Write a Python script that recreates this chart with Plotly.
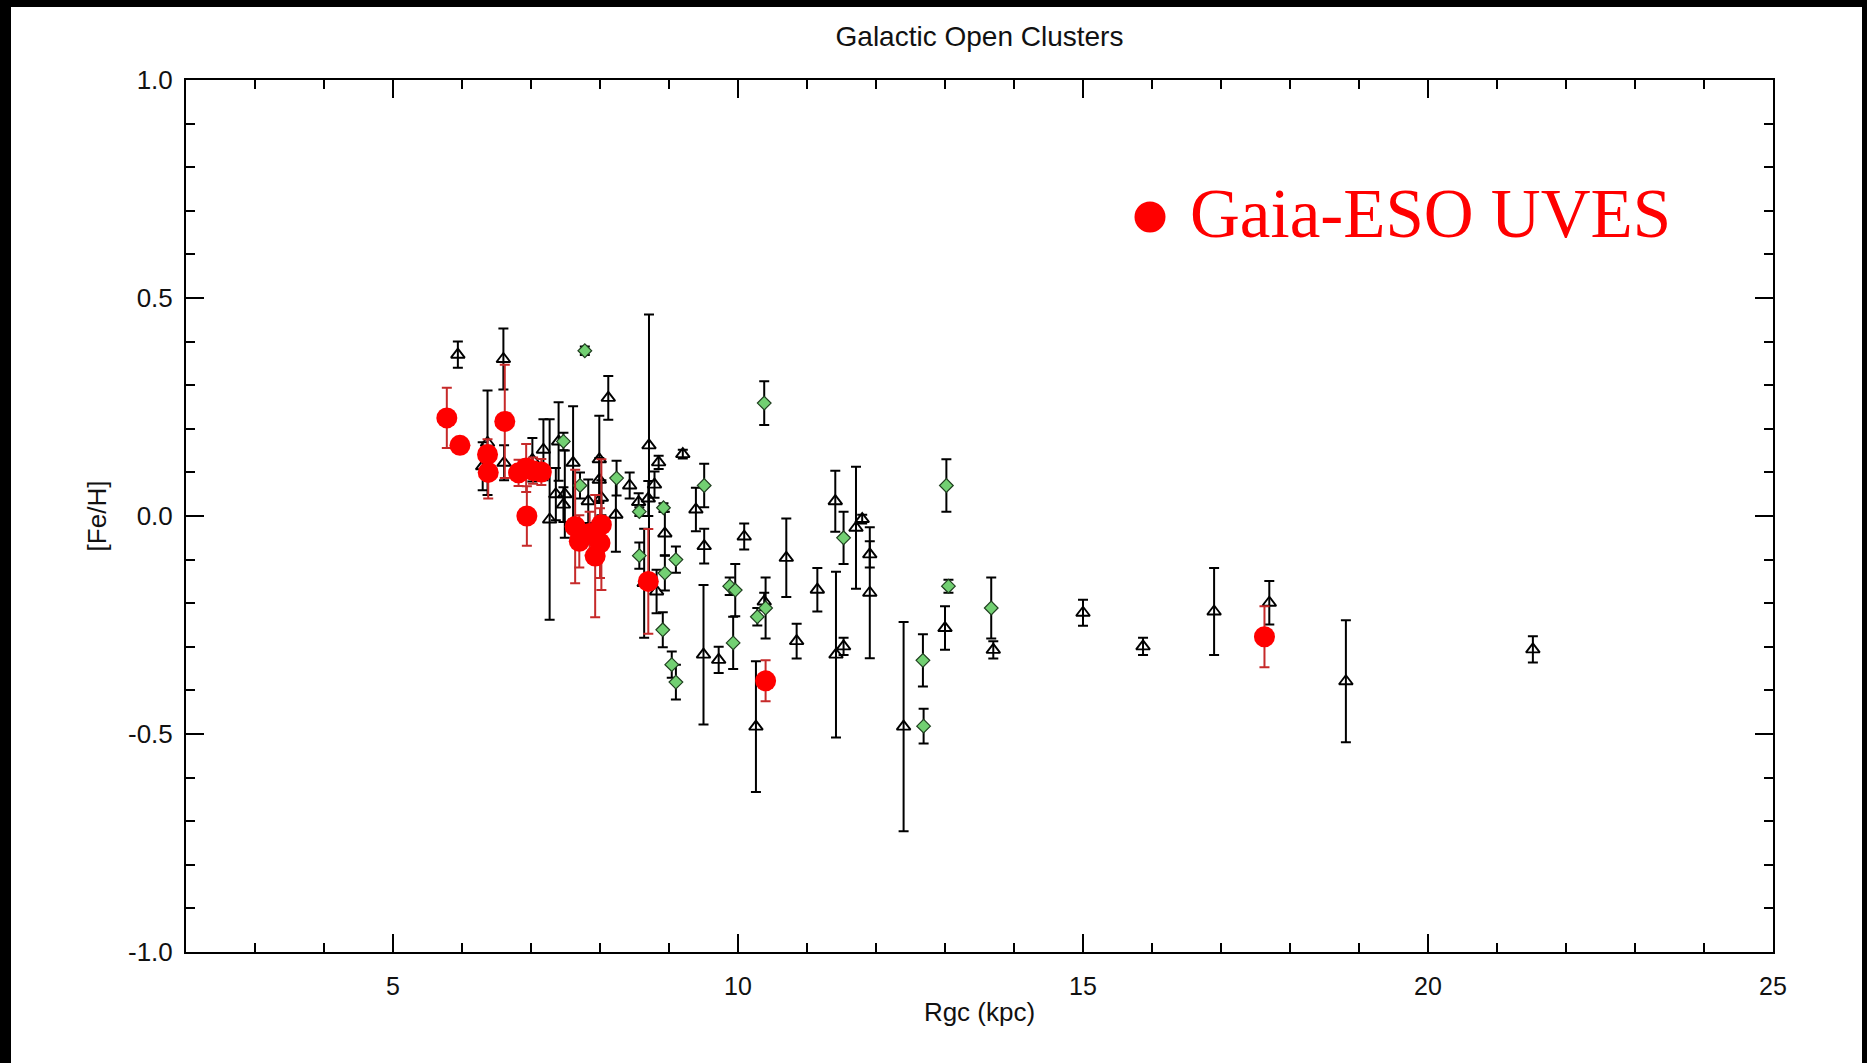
import plotly.graph_objects as go

# ---------------- data ----------------
# Literature open clusters (open triangles)
tri_x = [5.94, 6.60, 6.37, 6.30, 6.61, 7.02, 7.18, 7.27, 7.40, 7.36, 7.49, 7.47, 7.61, 7.83,
         7.99, 7.99, 8.02, 8.12, 8.23, 8.43, 8.56, 8.70, 8.71, 8.79, 8.85, 8.94, 8.64, 8.82,
         9.20, 9.39, 9.51, 9.50, 9.72, 10.09, 10.38, 10.26, 10.70, 10.85, 11.15, 11.41, 11.42,
         11.53, 11.71, 11.80, 11.91, 11.91, 12.40, 13.00, 13.70, 15.00, 15.87, 16.90, 17.70,
         18.81, 21.52]
tri_y = [0.370, 0.360, 0.168, 0.114, 0.122, 0.129, 0.152, -0.008, 0.171, 0.050, 0.050, 0.026,
         0.122, 0.034, 0.130, 0.083, 0.042, 0.271, 0.003, 0.070, 0.032, 0.040, 0.162, 0.072,
         0.123, -0.040, -0.154, -0.173, 0.142, 0.015, -0.069, -0.318, -0.330, -0.047, -0.196,
         -0.483, -0.096, -0.287, -0.169, 0.034, -0.318, -0.299, -0.027, -0.007, -0.088, -0.176,
         -0.483, -0.257, -0.307, -0.222, -0.299, -0.219, -0.199, -0.379, -0.306]
tri_err = [0.03, 0.07, 0.12, 0.055, 0.04, 0.05, 0.07, 0.23, 0.09, 0.06, 0.10, 0.04, 0.13, 0.05,
           0.10, 0.05, 0.04, 0.05, 0.085, 0.03, 0.02, 0.04, 0.30, 0.03, 0.015, 0.05, 0.125, 0.05,
           0.01, 0.05, 0.04, 0.16, 0.03, 0.03, 0.02, 0.15, 0.09, 0.04, 0.05, 0.07, 0.19,
           0.02, 0.14, 0.01, 0.03, 0.15, 0.24, 0.05, 0.02, 0.03, 0.02, 0.10, 0.05,
           0.14, 0.03]

# Second literature sample (green diamonds)
dia_x = [7.47, 7.71, 7.78, 8.24, 8.57, 8.92, 8.57, 9.10, 8.94, 8.91, 9.04, 9.10, 9.51, 9.88,
         9.96, 9.93, 10.38, 10.28, 10.40, 11.53, 12.68, 12.69, 13.02, 13.05, 13.67]
dia_y = [0.171, 0.070, 0.379, 0.087, 0.010, 0.019, -0.091, -0.100, -0.131, -0.261, -0.341,
         -0.381, 0.070, -0.161, -0.170, -0.291, 0.259, -0.231, -0.211, -0.050, -0.331, -0.482,
         0.070, -0.161, -0.211]
dia_err = [0.02, 0.03, 0.01, 0.04, 0.01, 0.01, 0.03, 0.03, 0.04, 0.04, 0.03, 0.04, 0.05, 0.02,
           0.06, 0.06, 0.05, 0.02, 0.07, 0.06, 0.06, 0.04, 0.06, 0.015, 0.07]

# Gaia-ESO UVES clusters (red filled circles)
ges_x = [5.78, 5.97, 6.37, 6.38, 6.62, 6.82, 6.93, 7.03, 7.15, 6.94, 7.64, 7.70, 7.85, 8.02,
         8.00, 7.93, 8.70, 10.40, 17.63]
ges_y = [0.225, 0.162, 0.141, 0.100, 0.217, 0.099, 0.110, 0.104, 0.101, 0.000, -0.024, -0.058,
         -0.040, -0.020, -0.062, -0.092, -0.150, -0.378, -0.277]
ges_err = [0.069, 0.0, 0.035, 0.06, 0.13, 0.03, 0.055, 0.03, 0.03, 0.068, 0.13, 0.06, 0.05,
           0.15, 0.08, 0.14, 0.12, 0.047, 0.07]

x_major = [5, 10, 15, 20, 25]
x_major_text = ["5", "10", "15", "20", "25"]
y_major = [-1.0, -0.5, 0.0, 0.5, 1.0]
y_major_text = ["-1.0", "-0.5", "0.0", "0.5", "1.0"]

title_text = "Galactic Open Clusters"
x_title = "Rgc (kpc)"
y_title = "[Fe/H]"
legend_text = "Gaia-ESO UVES"

# ---------------- figure ----------------
W, H = 1867, 1063
ML, MR, MT, MB = 186, 94, 80, 111
PW = W - ML - MR
PH = H - MT - MB


def px_to_paper_x(px):
    return (px - ML) / PW


def px_to_paper_y(py):
    return (H - MB - py) / PH


fig = go.Figure()

fig.add_trace(go.Scatter(
    x=tri_x, y=tri_y, mode="markers", name="literature",
    marker=dict(symbol="triangle-up-open", size=12, color="black",
                line=dict(color="black", width=1.9)),
    error_y=dict(type="data", array=tri_err, visible=True, color="black",
                 thickness=2, width=5),
    showlegend=False,
))

fig.add_trace(go.Scatter(
    x=dia_x, y=dia_y, mode="markers", name="literature 2",
    marker=dict(symbol="diamond", size=10.5, color="#72d072",
                line=dict(color="#1f3f1f", width=1.2)),
    error_y=dict(type="data", array=dia_err, visible=True, color="black",
                 thickness=2, width=5),
    showlegend=False,
))

fig.add_trace(go.Scatter(
    x=ges_x, y=ges_y, mode="markers", name=legend_text,
    marker=dict(symbol="circle", size=21, color="#ff0000", line=dict(width=0)),
    error_y=dict(type="data", array=ges_err, visible=True, color="#c62a2a",
                 thickness=2, width=5),
    showlegend=False,
))

axis_common = dict(
    showline=True, linecolor="black", linewidth=2, mirror="ticks",
    ticks="inside", tickcolor="black", tickwidth=2, ticklen=18,
    showgrid=False, zeroline=False,
)

fig.update_xaxes(
    range=[2, 25], tickmode="array", tickvals=x_major, ticktext=x_major_text,
    minor=dict(dtick=1, ticks="inside", ticklen=9, tickwidth=2, tickcolor="black",
               showgrid=False),
    tickfont=dict(family="Liberation Sans", size=25, color="#111111"),
    ticklabelstandoff=11,
    title=dict(text=x_title, font=dict(family="Liberation Sans", size=26, color="#111111"),
               standoff=4),
    **axis_common,
)
fig.update_yaxes(
    range=[-1, 1], tickmode="array", tickvals=y_major, ticktext=y_major_text,
    minor=dict(dtick=0.1, tick0=0, ticks="inside", ticklen=9, tickwidth=2,
               tickcolor="black", showgrid=False),
    tickfont=dict(family="Liberation Sans", size=26, color="#111111"),
    ticklabelstandoff=6,
    title=dict(text=y_title, font=dict(family="Liberation Sans", size=26, color="#111111"),
               standoff=14),
    **axis_common,
)

# legend (drawn as annotation + marker glyph)
fig.add_shape(type="circle", xref="paper", yref="paper", xsizemode="pixel",
              ysizemode="pixel", xanchor=px_to_paper_x(1150), yanchor=px_to_paper_y(217),
              x0=-15.5, x1=15.5, y0=-15.5, y1=15.5,
              fillcolor="#ff0000", line=dict(width=0))
fig.add_annotation(text=legend_text, xref="paper", yref="paper",
                   x=px_to_paper_x(1188), y=px_to_paper_y(214),
                   xanchor="left", yanchor="middle", showarrow=False,
                   font=dict(family="Liberation Serif", size=69, color="#ff0000"))

# black frame bands around the picture
black = "#000000"
fig.add_shape(type="rect", xref="paper", yref="paper", layer="above",
              x0=px_to_paper_x(0), x1=px_to_paper_x(11), y0=px_to_paper_y(H), y1=px_to_paper_y(0),
              fillcolor=black, line=dict(width=0))
fig.add_shape(type="rect", xref="paper", yref="paper", layer="above",
              x0=px_to_paper_x(0), x1=px_to_paper_x(W), y0=px_to_paper_y(7), y1=px_to_paper_y(0),
              fillcolor=black, line=dict(width=0))
fig.add_shape(type="rect", xref="paper", yref="paper", layer="above",
              x0=px_to_paper_x(1862), x1=px_to_paper_x(W), y0=px_to_paper_y(H), y1=px_to_paper_y(0),
              fillcolor=black, line=dict(width=0))

fig.update_layout(
    width=W, height=H, autosize=False,
    margin=dict(l=ML, r=MR, t=MT, b=MB, pad=0),
    paper_bgcolor="white", plot_bgcolor="white",
    title=dict(text=title_text, x=0.5, xref="paper", y=1 - 36 / H, yref="container",
               xanchor="center", yanchor="middle",
               font=dict(family="Liberation Sans", size=28, color="#111111")),
    showlegend=False,
)

fig.write_html("out.html")
